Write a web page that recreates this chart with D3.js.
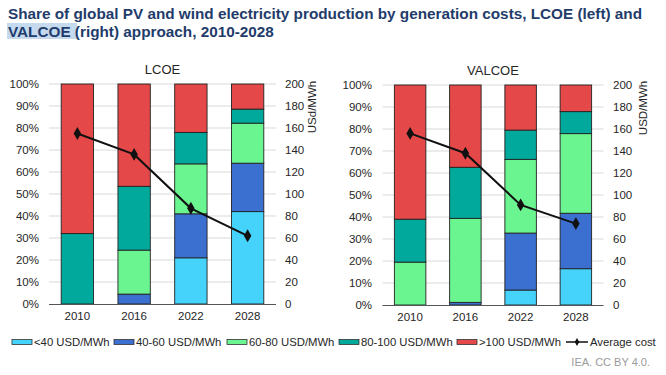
<!DOCTYPE html>
<html><head><meta charset="utf-8">
<script src="https://cdn.jsdelivr.net/npm/d3@7"></script>
<style>
html,body{margin:0;padding:0;background:#fff;}
svg{display:block;font-family:"Liberation Sans",Arial,sans-serif;}
</style></head>
<body><svg id="c" width="666" height="375"></svg>
<script>
const years = ["2010","2016","2022","2028"];
const seriesNames = ["<40 USD/MWh","40-60 USD/MWh","60-80 USD/MWh","80-100 USD/MWh",">100 USD/MWh"];
const seriesColors = ["#45d2fb","#3b6fd0","#6af590","#00a99c","#e54848"];
// LCOE shares (%)
const lcoeLt40   = [0, 0, 21, 42];
const lcoe40_60  = [0, 4.5, 20, 22];
const lcoe60_80  = [0, 20, 22.7, 18.2];
const lcoe80_100 = [32, 29, 14.3, 6.4];
const lcoeGt100  = [68, 46.5, 22, 11.4];
const lcoeAvg    = [155, 136, 87, 62];
// VALCOE shares (%)
const valLt40   = [0, 0, 6.8, 16.5];
const val40_60  = [0, 1.2, 25.9, 25.2];
const val60_80  = [19.5, 38.2, 33.5, 36.2];
const val80_100 = [19.5, 23.2, 13.3, 10];
const valGt100  = [61, 37.4, 20.5, 12.1];
const valAvg    = [156, 138, 91, 74];
const pctTicks = [0,10,20,30,40,50,60,70,80,90,100];
const costTicks = [0,20,40,60,80,100,120,140,160,180,200];

const svg = d3.select("#c");
const textCol = "#262626";

// Title
svg.append("rect").attr("x",7).attr("y",23).attr("width",70).attr("height",16).attr("fill","#c5d9ef");
const title = svg.append("text").attr("fill","#1f3c6b").attr("font-weight","bold").attr("font-size","15.3px");
title.append("tspan").attr("x",8).attr("y",19).text("Share of global PV and wind electricity production by generation costs, LCOE (left) and");
title.append("tspan").attr("x",8).attr("y",37).text("VALCOE (right) approach, 2010-2028");

function panel(cfg){
  const {x0,x1,yTop,yBot,name,unit,data,avg,leftLabelX,rightLabelX,unitX} = cfg;
  const g = svg.append("g");
  const x = d3.scaleBand().domain(years).range([x0,x1]).paddingInner(0.43).paddingOuter(0.215);
  const y = d3.scaleLinear().domain([0,100]).range([yBot,yTop]);
  const y2 = d3.scaleLinear().domain([0,200]).range([yBot,yTop]);
  // grid
  g.selectAll("line.grid").data(pctTicks.filter(d=>d>0)).join("line")
    .attr("x1",x0).attr("x2",x1).attr("y1",d=>y(d)).attr("y2",d=>y(d))
    .attr("stroke","#d9d9d9").attr("stroke-width",1);
  // left labels
  g.selectAll("text.l").data(pctTicks).join("text")
    .attr("x",leftLabelX).attr("y",d=>y(d)).attr("dy","0.35em").attr("text-anchor","end")
    .attr("font-size","11.5px").attr("fill",textCol).text(d=>d+"%");
  // right labels
  g.selectAll("text.r").data(costTicks).join("text")
    .attr("x",rightLabelX).attr("y",d=>y2(d)).attr("dy","0.35em").attr("text-anchor","start")
    .attr("font-size","11.5px").attr("fill",textCol).text(d=>d);
  // stacked bars
  const rows = years.map((yr,i)=>{const o={year:yr}; seriesNames.forEach((s,k)=>o[s]=data[k][i]); return o;});
  const stack = d3.stack().keys(seriesNames)(rows);
  stack.forEach((layer,k)=>{
    g.selectAll(null).data(layer.filter(d=>d[1]-d[0]>0)).join("rect")
      .attr("x",d=>x(d.data.year)).attr("width",x.bandwidth())
      .attr("y",d=>y(d[1])).attr("height",d=>y(d[0])-y(d[1]))
      .attr("fill",seriesColors[k]).attr("stroke","#222").attr("stroke-width",0.9);
  });
  // axis line
  g.append("line").attr("x1",x0).attr("x2",x1).attr("y1",yBot+0.5).attr("y2",yBot+0.5).attr("stroke","#555").attr("stroke-width",1);
  // x labels
  g.selectAll("text.x").data(years).join("text")
    .attr("x",d=>x(d)+x.bandwidth()/2).attr("y",yBot+12).attr("dy","0.35em").attr("text-anchor","middle")
    .attr("font-size","11.5px").attr("fill",textCol).text(d=>d);
  // avg line
  const line = d3.line().x((d,i)=>x(years[i])+x.bandwidth()/2).y(d=>y2(d));
  g.append("path").attr("d",line(avg)).attr("fill","none").attr("stroke","#111").attr("stroke-width",2);
  g.selectAll("path.m").data(avg).join("path")
    .attr("d",d3.symbol().type(d3.symbolDiamond).size(48))
    .attr("transform",(d,i)=>`translate(${x(years[i])+x.bandwidth()/2},${y2(d)})`).attr("fill","#111");
  // panel title
  g.append("text").attr("x",(x0+x1)/2).attr("y",yTop-10).attr("text-anchor","middle")
    .attr("font-size","13px").attr("fill",textCol).text(name);
  // unit
  g.append("text").attr("transform",`translate(${unitX},${yTop+23}) rotate(-90)`).attr("text-anchor","middle")
    .attr("dy","0.35em").attr("font-size","11.5px").attr("fill",textCol).text(unit);
}

panel({x0:49,x1:276,yTop:84,yBot:304,name:"LCOE",unit:"USd/MWh",
  data:[lcoeLt40,lcoe40_60,lcoe60_80,lcoe80_100,lcoeGt100],avg:lcoeAvg,
  leftLabelX:39,rightLabelX:285,unitX:312});
panel({x0:382.5,x1:603.5,yTop:85,yBot:305,name:"VALCOE",unit:"USD/MWh",
  data:[valLt40,val40_60,val60_80,val80_100,valGt100],avg:valAvg,
  leftLabelX:372,rightLabelX:613,unitX:643});

// Legend
const legendX = [12,114,227,339,457];
const lg = svg.append("g");
seriesNames.forEach((s,k)=>{
  lg.append("rect").attr("x",legendX[k]).attr("y",339.5).attr("width",20).attr("height",5)
    .attr("fill",seriesColors[k]).attr("stroke","#333").attr("stroke-width",0.8);
  lg.append("text").attr("x",legendX[k]+22).attr("y",342).attr("dy","0.35em")
    .attr("font-size","11.3px").attr("fill",textCol).text(s);
});
lg.append("line").attr("x1",566).attr("x2",588).attr("y1",342).attr("y2",342).attr("stroke","#111").attr("stroke-width",1.5);
lg.append("path").attr("d",d3.symbol().type(d3.symbolDiamond).size(18)).attr("transform","translate(577,342)").attr("fill","#111");
lg.append("text").attr("x",590).attr("y",342).attr("dy","0.35em").attr("font-size","11.3px").attr("fill",textCol).text("Average cost");

svg.append("text").attr("x",650).attr("y",362).attr("dy","0.35em").attr("text-anchor","end")
  .attr("font-size","11px").attr("fill","#9a9a9a").text("IEA. CC BY 4.0.");
</script></body></html>
